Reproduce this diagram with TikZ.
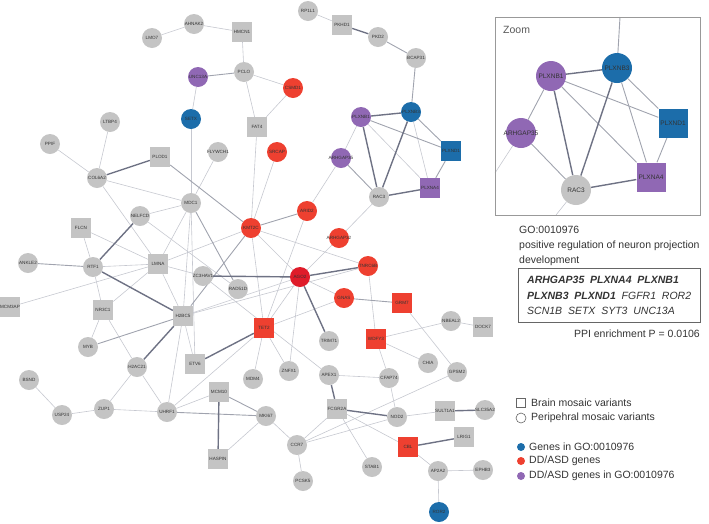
\documentclass[tikz,border=0pt]{standalone}
\usepackage{fontspec}
\setmainfont{Liberation Sans}
\usetikzlibrary{backgrounds}
\definecolor{ngray}{HTML}{C4C4C4}
\definecolor{nred}{HTML}{EE4030}
\definecolor{nredd}{HTML}{DF1C2A}
\definecolor{nblue}{HTML}{1C6DAA}
\definecolor{npurp}{HTML}{9068B4}
\definecolor{eL}{HTML}{C6C8D0}
\definecolor{eM}{HTML}{A0A3AE}
\definecolor{eD}{HTML}{6E7284}
\definecolor{txt}{HTML}{333333}
\newcommand\nl[1]{\makebox[0pt]{#1}}
\begin{document}
\begin{tikzpicture}[x=1pt,y=-1pt,
  cn/.style={circle,minimum size=20pt,inner sep=0pt,fill=ngray,text=txt,font=\fontsize{4.6}{5}\selectfont},
  sq/.style={rectangle,minimum size=20pt,inner sep=0pt,fill=ngray,text=txt,font=\fontsize{4.6}{5}\selectfont},
  zc/.style={circle,minimum size=30pt,inner sep=0pt,fill=ngray,text=txt,font=\fontsize{6.5}{7}\selectfont},
  zs/.style={rectangle,minimum size=29pt,inner sep=0pt,fill=ngray,text=txt,font=\fontsize{6.5}{7}\selectfont},
  fred/.style={fill=nred},fredd/.style={fill=nredd},fblue/.style={fill=nblue},fpurp/.style={fill=npurp},
  el/.style={draw=eL,line width=0.6pt},
  em/.style={draw=eM,line width=0.9pt},
  ed/.style={draw=eD,line width=1.4pt},
  ptxt/.style={text=txt,font=\fontsize{10.5}{12}\selectfont,inner sep=0pt,anchor=west}]
\useasboundingbox (0,0) rectangle (709,523);
% ---------- main network nodes
\node[cn] (LMO7) at (152,38) {\nl{LMO7}};
\node[cn] (AHNAK2) at (194,24) {\nl{AHNAK2}};
\node[sq] (HMCN1) at (242,32) {\nl{HMCN1}};
\node[cn] (RP1L1) at (308,11) {\nl{RP1L1}};
\node[sq] (PKHD1) at (342,25) {\nl{PKHD1}};
\node[cn] (PKD2) at (378,37) {\nl{PKD2}};
\node[cn] (BCAP31) at (416,58) {\nl{BCAP31}};
\node[cn] (PCLO) at (244,72) {\nl{PCLO}};
\node[cn,fpurp] (UNC13A) at (198,77) {\nl{UNC13A}};
\node[cn,fred] (CSMD1) at (293,88) {\nl{CSMD1}};
\node[cn,fblue] (SETX) at (191,119) {\nl{SETX}};
\node[sq] (FAT4) at (257,127) {\nl{FAT4}};
\node[cn] (FLYWCH1) at (218,152) {\nl{FLYWCH1}};
\node[cn,fred] (SRCAP) at (277,152) {\nl{SRCAP}};
\node[cn,fblue] (PLXNB3) at (411,112) {\nl{PLXNB3}};
\node[cn,fpurp] (PLXNB1) at (361,117) {\nl{PLXNB1}};
\node[sq,fblue] (PLXND1) at (451,151) {\nl{PLXND1}};
\node[cn,fpurp] (ARHGAP35) at (341,158) {\nl{ARHGAP35}};
\node[cn] (RAC3) at (379,197) {\nl{RAC3}};
\node[sq,fpurp] (PLXNA4) at (430,188) {\nl{PLXNA4}};
\node[cn] (LTBP4) at (110,122) {\nl{LTBP4}};
\node[cn] (PPIF) at (50,144) {\nl{PPIF}};
\node[sq] (PLOD1) at (160,157) {\nl{PLOD1}};
\node[cn] (COL6A2) at (97,178) {\nl{COL6A2}};
\node[cn] (MDC1) at (191,203) {\nl{MDC1}};
\node[cn,fred] (KMT2C) at (251,228) {\nl{KMT2C}};
\node[cn,fred] (ARID2) at (307,211) {\nl{ARID2}};
\node[cn,fred] (ARHGAP32) at (339,238) {\nl{ARHGAP32}};
\node[cn,fred] (TNRC6B) at (368,266) {\nl{TNRC6B}};
\node[cn,fredd] (AGO2) at (300,277) {\nl{AGO2}};
\node[cn] (NELFCD) at (140,216) {\nl{NELFCD}};
\node[sq] (FLCN) at (81,228) {\nl{FLCN}};
\node[cn] (ANKLE2) at (28,263) {\nl{ANKLE2}};
\node[cn] (RTF1) at (93,267) {\nl{RTF1}};
\node[sq] (LMNA) at (158,264) {\nl{LMNA}};
\node[cn] (ZC3HAV1) at (203,276) {\nl{ZC3HAV1}};
\node[cn] (RAD51D) at (238,289) {\nl{RAD51D}};
\node[sq] (MCM3AP) at (10,307) {\nl{MCM3AP}};
\node[sq] (NR3C1) at (103,310) {\nl{NR3C1}};
\node[sq] (H2BC5) at (183,316) {\nl{H2BC5}};
\node[sq,fred] (TET2) at (264,328) {\nl{TET2}};
\node[cn,fred] (GNAS) at (344,298) {\nl{GNAS}};
\node[sq,fred] (GRM7) at (402,303) {\nl{GRM7}};
\node[cn] (NBEAL2) at (451,321) {\nl{NBEAL2}};
\node[sq] (DOCK7) at (483,327) {\nl{DOCK7}};
\node[sq,fred] (WDFY3) at (376,339) {\nl{WDFY3}};
\node[cn] (TRIM71) at (329,341) {\nl{TRIM71}};
\node[cn] (MYB) at (88,347) {\nl{MYB}};
\node[cn] (H2AC21) at (137,367) {\nl{H2AC21}};
\node[sq] (ETV6) at (195,364) {\nl{ETV6}};
\node[cn] (MDM4) at (253,379) {\nl{MDM4}};
\node[cn] (ZNFX1) at (289,371) {\nl{ZNFX1}};
\node[cn] (APEX1) at (329,375) {\nl{APEX1}};
\node[cn] (CHIA) at (428,363) {\nl{CHIA}};
\node[cn] (GPSM2) at (457,372) {\nl{GPSM2}};
\node[cn] (CFAP74) at (389,378) {\nl{CFAP74}};
\node[cn] (BSND) at (29,380) {\nl{BSND}};
\node[sq] (MCM10) at (219,392) {\nl{MCM10}};
\node[sq] (FCGR2A) at (337,409) {\nl{FCGR2A}};
\node[cn] (NOD2) at (397,417) {\nl{NOD2}};
\node[sq] (SULT1A1) at (445,411) {\nl{SULT1A1}};
\node[cn] (SLC35A2) at (485,410) {\nl{SLC35A2}};
\node[cn] (USP24) at (62,415) {\nl{USP24}};
\node[cn] (ZUP1) at (104,409) {\nl{ZUP1}};
\node[cn] (UHRF1) at (167,412) {\nl{UHRF1}};
\node[cn] (MKI67) at (266,416) {\nl{MKI67}};
\node[sq] (LRIG1) at (464,437) {\nl{LRIG1}};
\node[cn] (CCR7) at (297,445) {\nl{CCR7}};
\node[sq,fred] (CBL) at (408,447) {\nl{CBL}};
\node[sq] (HASPIN) at (218,459) {\nl{HASPIN}};
\node[cn] (STAB1) at (372,467) {\nl{STAB1}};
\node[cn] (AP2A2) at (438,471) {\nl{AP2A2}};
\node[cn] (EPHB3) at (483,470) {\nl{EPHB3}};
\node[cn] (PCSK5) at (303,481) {\nl{PCSK5}};
\node[cn,fblue] (ROR2) at (439,512) {\nl{ROR2}};
% ---------- zoom inset
\node[draw=black!40,line width=0.8pt,minimum width=205pt,minimum height=198pt,inner sep=0pt] (zbox) at (597.5,116) {};
\node[ptxt,text=black!65] (ztitle) at (503,30) {Zoom};
\node[zc,fpurp] (zPLXNB1) at (551,76) {\nl{PLXNB1}};
\node[zc,fblue] (zPLXNB3) at (617,68) {\nl{PLXNB3}};
\node[zs,fblue] (zPLXND1) at (673,123) {\nl{PLXND1}};
\node[zc,fpurp] (zARHGAP35) at (521,133) {\nl{ARHGAP35}};
\node[zc] (zRAC3) at (576,190) {\nl{RAC3}};
\node[zs,fpurp] (zPLXNA4) at (651,177) {\nl{PLXNA4}};
\coordinate (zoutA) at (620,17);
\coordinate (zoutB) at (495,173);
\coordinate (zoutC) at (556,215);
% ---------- edges
\begin{pgfonlayer}{background}
\foreach \a/\b in {LMO7/AHNAK2,AHNAK2/HMCN1,HMCN1/PCLO,PCLO/CSMD1,PCLO/FAT4,CSMD1/FAT4,UNC13A/SETX,SETX/MDC1,
  FAT4/KMT2C,SRCAP/KMT2C,FLYWCH1/MDC1,LTBP4/COL6A2,PPIF/COL6A2,COL6A2/MDC1,COL6A2/LMNA,RP1L1/PKHD1,
  ARHGAP35/ARID2,RAC3/ARHGAP32,FLCN/LMNA,RTF1/LMNA,MCM3AP/LMNA,NR3C1/LMNA,NR3C1/H2AC21,NR3C1/MYB,RTF1/NR3C1,
  RTF1/FLCN,NELFCD/MDC1,NELFCD/RAD51D,MDC1/LMNA,MDC1/H2BC5,MDC1/ETV6,LMNA/H2BC5,LMNA/ZC3HAV1,KMT2C/LMNA,
  KMT2C/AGO2,KMT2C/TNRC6B,KMT2C/TET2,ARID2/TET2,H2BC5/AGO2,H2BC5/TNRC6B,H2BC5/ETV6,H2BC5/UHRF1,
  H2AC21/ZUP1,H2AC21/UHRF1,ZUP1/USP24,BSND/USP24,ZUP1/UHRF1,AGO2/ARHGAP32,AGO2/GNAS,AGO2/ZNFX1,AGO2/TET2,
  TET2/MDM4,TET2/ZNFX1,TET2/UHRF1,TET2/GNAS,ZC3HAV1/APEX1,TNRC6B/WDFY3,GRM7/GPSM2,WDFY3/NBEAL2,
  NBEAL2/DOCK7,WDFY3/CHIA,WDFY3/CFAP74,CFAP74/APEX1,CFAP74/NOD2,FCGR2A/CBL,FCGR2A/STAB1,FCGR2A/CCR7,
  CCR7/NOD2,CCR7/GPSM2,NOD2/SULT1A1,CBL/AP2A2,AP2A2/EPHB3,AP2A2/ROR2,CCR7/MKI67,CCR7/PCSK5,MKI67/HASPIN,
  MCM10/UHRF1,PLXNB1/ARHGAP35,PLXNB1/PLXNA4,PLXNB3/PLXNA4,
  zARHGAP35/zoutB,zRAC3/zoutC}
  \draw[el] (\a) -- (\b);
\foreach \a/\b in {PCLO/UNC13A,RTF1/ANKLE2,MYB/H2BC5,KMT2C/ARID2,KMT2C/H2BC5,MDC1/RAD51D,GNAS/GRM7,
  MKI67/MCM10,MKI67/UHRF1,PLXNB1/PLXND1,PLXNB3/PLXND1,PLXND1/PLXNA4,ARHGAP35/RAC3,BCAP31/PLXNB3,
  PKD2/BCAP31,PLOD1/KMT2C,
  zPLXNB1/zPLXND1,zPLXNB1/zPLXNA4,zPLXNB1/zARHGAP35,zPLXNB3/zPLXNA4,zPLXNB3/zPLXND1,zPLXND1/zPLXNA4,
  zARHGAP35/zRAC3,zPLXNB3/zoutA}
  \draw[em] (\a) -- (\b);
\foreach \a/\b in {PLOD1/COL6A2,PKHD1/PKD2,RTF1/NELFCD,RTF1/H2BC5,H2AC21/H2BC5,ZC3HAV1/AGO2,AGO2/TNRC6B,
  AGO2/TRIM71,TET2/ETV6,APEX1/FCGR2A,FCGR2A/NOD2,SULT1A1/SLC35A2,CBL/LRIG1,MCM10/HASPIN,
  PLXNB1/PLXNB3,PLXNB1/RAC3,PLXNB3/RAC3,RAC3/PLXNA4,
  zPLXNB1/zPLXNB3,zPLXNB1/zRAC3,zPLXNB3/zRAC3,zRAC3/zPLXNA4}
  \draw[ed] (\a) -- (\b);
\end{pgfonlayer}
% ---------- right panel text
\node[ptxt] (go) at (519,230) {GO:0010976};
\node[ptxt] (gotxt1) at (519,246) {positive regulation of neuron projection};
\node[ptxt] (gotxt2) at (519,261) {development};
\node[draw=black!60,line width=0.8pt,minimum width=182pt,minimum height=54pt,inner sep=0pt] (gbox) at (609,295) {};
\node[ptxt] (g1) at (527,280) {\textbf{\textit{ARHGAP35\ \ PLXNA4\ \ PLXNB1}}};
\node[ptxt] (g2) at (527,296) {\textbf{\textit{PLXNB3\ \ PLXND1}}\ \ \textit{FGFR1\ \ ROR2}};
\node[ptxt] (g3) at (527,311) {\textit{SCN1B\ \ SETX\ \ SYT3\ \ UNC13A}};
\node[ptxt,anchor=east] (ppi) at (700,334) {PPI enrichment P = 0.0106};
% ---------- legend
\node[draw=black!60,line width=0.6pt,minimum size=9pt,inner sep=0pt] (lsq) at (521,403) {};
\node[ptxt] (lsqt) at (531,403) {Brain mosaic variants};
\node[draw=black!60,line width=0.6pt,circle,minimum size=10pt,inner sep=0pt] (lci) at (521,418) {};
\node[ptxt] (lcit) at (531,418) {Peripehral mosaic variants};
\node[circle,fill=nblue,minimum size=8pt,inner sep=0pt] (lb) at (521,447) {};
\node[ptxt] (lbt) at (529,447) {Genes in GO:0010976};
\node[circle,fill=nred,minimum size=8pt,inner sep=0pt] (lr) at (521,461) {};
\node[ptxt] (lrt) at (529,461) {DD/ASD genes};
\node[circle,fill=npurp,minimum size=8pt,inner sep=0pt] (lp) at (521,476) {};
\node[ptxt] (lpt) at (529,476) {DD/ASD genes in GO:0010976};
\end{tikzpicture}
\end{document}
